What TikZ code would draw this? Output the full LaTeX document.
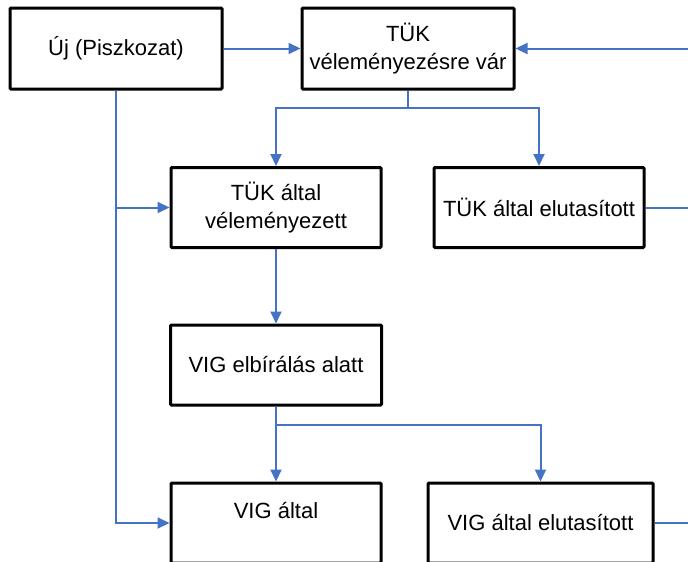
\documentclass[tikz,border=0pt]{standalone}
\usepackage{fontspec}
\setmainfont{Liberation Sans}
\usetikzlibrary{arrows.meta}
\definecolor{conn}{RGB}{68,114,196}
\begin{document}
\begin{tikzpicture}[x=1pt,y=-1pt,
  box/.style={draw=black,line width=3pt,rounded corners=1pt,fill=white,align=center,
    inner sep=0pt,font=\fontsize{22}{28}\selectfont},
  conline/.style={draw=conn,line width=2pt},
  conarrow/.style={conline,-{Triangle[length=12pt,width=11pt]}}]
\useasboundingbox (0,0) rectangle (688,562);
\clip (0,0) rectangle (688,562);
\fill[white] (0,0) rectangle (688,562);
\node[box,minimum width=212pt,minimum height=81pt] (b1) at (116,48.5) {Új (Piszkozat)};
\node[box,minimum width=212pt,minimum height=81pt] (b2) at (408,48.5) {TÜK\\véleményezésre vár};
\node[box,minimum width=210pt,minimum height=80pt] (b3) at (276,207.5) {TÜK által\\véleményezett};
\node[box,minimum width=210pt,minimum height=80pt] (b4) at (539,207.5) {TÜK által elutasított};
\node[box,minimum width=211pt,minimum height=80pt] (b5) at (276,365) {VIG elbírálás alatt};
\node[box,minimum width=210pt,minimum height=80pt,text height=16pt,text depth=26pt] (b6) at (276,523) {VIG által};
\node[box,minimum width=225pt,minimum height=80pt] (b7) at (540.5,523) {VIG által elutasított};
\coordinate (rin) at (688,48.5);
\coordinate (rout4) at (688,207.5);
\coordinate (rout7) at (688,523);
\coordinate (split1) at (408,107.5);
\coordinate (split2) at (276,425);
\draw[conarrow] (b1.east) -- (b2.west);
\draw[conarrow] (rin) -- (b2.east);
\draw[conline] (b2.south) -- (split1);
\draw[conarrow] (split1) -| (b3.north);
\draw[conarrow] (split1) -| (b4.north);
\draw[conarrow] (b1.south) |- (b6.west);
\draw[conarrow] (b1.south |- b3.west) -- (b3.west);
\draw[conarrow] (b3.south) -- (b5.north);
\draw[conline] (b5.south) -- (split2);
\draw[conarrow] (split2) -| (b6.north);
\draw[conarrow] (split2) -| (b7.north);
\draw[conline] (b4.east) -- (rout4);
\draw[conline] (b7.east) -- (rout7);
\end{tikzpicture}
\end{document}
